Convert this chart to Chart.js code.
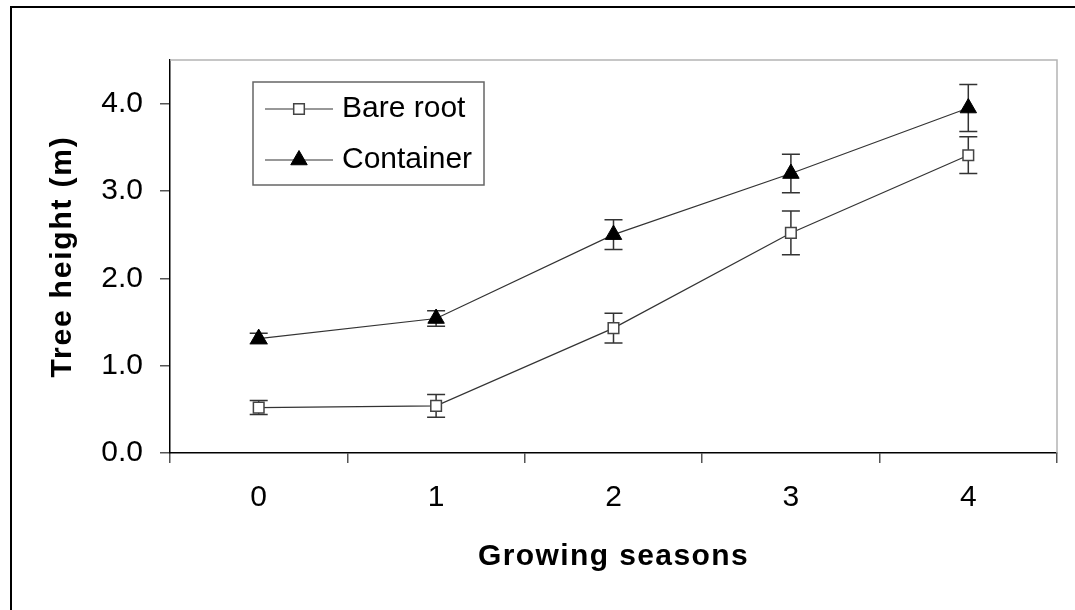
<!DOCTYPE html>
<html>
<head>
<meta charset="utf-8">
<script src="https://cdn.jsdelivr.net/npm/chart.js@4/dist/chart.umd.min.js"></script>
<style>
  body { margin: 0; background: #fff; overflow: hidden; }
  #frame { position: absolute; left: 10px; top: 6px; width: 1200px; height: 800px; border: 2px solid #000; }
  #wrap { position: absolute; left: 0; top: 0; width: 1075px; height: 610px; }
</style>
</head>
<body>
<div id="frame"></div>
<div id="wrap"><canvas id="chart" width="1075" height="610"></canvas></div>
<script>
// chart data
const seasons = ['0', '1', '2', '3', '4']
const bareRoot = [0.52, 0.54, 1.43, 2.52, 3.41]
const bareRootErr = [0.08, 0.13, 0.17, 0.25, 0.21]
const container = [1.31, 1.54, 2.50, 3.20, 3.95]
const containerErr = [0.06, 0.09, 0.17, 0.22, 0.27]
const yTicks = [0, 1, 2, 3, 4]

const FAMILY = '"Liberation Sans", Arial, sans-serif'
const tickFont = { family: FAMILY, size: 30 }
const titleFont = { family: FAMILY, size: 30, weight: 'bold' }

// the original axis titles are set a little loose
const spaceTitle = (scale, spacing) => {
  if (scale._spaced) return
  const draw = scale.drawTitle
  scale.drawTitle = function () {
    this.ctx.letterSpacing = spacing
    draw.call(this)
    this.ctx.letterSpacing = '0px'
  }
  scale._spaced = true
}

// error bars under the markers
const errorBars = {
  id: 'errorBars',
  beforeDatasetsDraw: (chart) => {
    const ctx = chart.ctx
    const yScale = chart.scales.y
    const errs = [bareRootErr, containerErr]
    ctx.save()
    ctx.strokeStyle = '#333'
    ctx.lineWidth = 1.5
    chart.data.datasets.forEach((ds, i) => {
      const meta = chart.getDatasetMeta(i)
      meta.data.forEach((pt, j) => {
        const v = ds.data[j]
        const e = errs[i][j]
        const yTop = yScale.getPixelForValue(v + e)
        const yBot = yScale.getPixelForValue(v - e)
        ctx.beginPath()
        ctx.moveTo(pt.x, yTop)
        ctx.lineTo(pt.x, yBot)
        ctx.moveTo(pt.x - 9, yTop)
        ctx.lineTo(pt.x + 9, yTop)
        ctx.moveTo(pt.x - 9, yBot)
        ctx.lineTo(pt.x + 9, yBot)
        ctx.stroke()
      })
    })
    ctx.restore()
  }
}

// gray top/right edge of the plot area
const plotFrame = {
  id: 'plotFrame',
  beforeDatasetsDraw: (chart) => {
    const { left, top, right, bottom } = chart.chartArea
    const ctx = chart.ctx
    ctx.save()
    ctx.strokeStyle = '#b4b4b4'
    ctx.lineWidth = 1.5
    ctx.beginPath()
    ctx.moveTo(left, top)
    ctx.lineTo(right, top)
    ctx.lineTo(right, bottom)
    ctx.stroke()
    ctx.restore()
  }
}

// boxed legend inside the plot, upper left
const boxLegend = {
  id: 'boxLegend',
  afterDraw: (chart) => {
    const ctx = chart.ctx
    const area = chart.chartArea
    const x0 = area.left + 83
    const y0 = area.top + 22
    ctx.save()
    ctx.fillStyle = '#fff'
    ctx.fillRect(x0, y0, 231, 103)
    ctx.strokeStyle = '#666'
    ctx.lineWidth = 1.5
    ctx.strokeRect(x0, y0, 231, 103)
    chart.data.datasets.forEach((ds, i) => {
      const cy = y0 + 27 + i * 51
      ctx.strokeStyle = ds.borderColor
      ctx.lineWidth = ds.borderWidth
      ctx.beginPath()
      ctx.moveTo(x0 + 12, cy)
      ctx.lineTo(x0 + 80, cy)
      ctx.stroke()
      ctx.fillStyle = ds.pointBackgroundColor
      ctx.strokeStyle = ds.pointBorderColor
      ctx.lineWidth = ds.pointBorderWidth
      Chart.helpers.drawPoint(ctx, {
        pointStyle: ds.pointStyle,
        radius: ds.pointRadius,
        borderWidth: ds.pointBorderWidth,
        rotation: 0
      }, x0 + 46, cy)
      ctx.fillStyle = '#000'
      ctx.font = '30px ' + FAMILY
      ctx.textBaseline = 'middle'
      ctx.textAlign = 'left'
      ctx.fillText(ds.label, x0 + 89, cy)
    })
    ctx.restore()
  }
}

const ctx = document.getElementById('chart').getContext('2d')
new Chart(ctx, {
  type: 'line',
  data: {
    labels: seasons,
    datasets: [
      {
        label: 'Bare root',
        data: bareRoot,
        borderColor: '#333',
        borderWidth: 1.2,
        pointStyle: 'rect',
        pointRadius: 7.5,
        pointBackgroundColor: '#fff',
        pointBorderColor: '#444',
        pointBorderWidth: 1.5
      },
      {
        label: 'Container',
        data: container,
        borderColor: '#333',
        borderWidth: 1.2,
        pointStyle: 'triangle',
        pointRadius: 9.5,
        pointBackgroundColor: '#000',
        pointBorderColor: '#000',
        pointBorderWidth: 1
      }
    ]
  },
  options: {
    responsive: false,
    animation: false,
    layout: { padding: { top: 60, right: 18, left: 0, bottom: 0 } },
    plugins: {
      legend: { display: false },
      tooltip: { enabled: false }
    },
    scales: {
      x: {
        offset: true,
        grid: { offset: true, drawOnChartArea: false, tickLength: 10, color: '#555', lineWidth: 1.5 },
        border: { color: '#000', width: 1.5 },
        ticks: { padding: 17, color: '#000', font: tickFont },
        title: { display: true, text: 'Growing seasons', color: '#000', font: titleFont, padding: { top: 0, bottom: 35 } },
        afterFit: (scale) => { scale.height = 157; spaceTitle(scale, '1.4px') }
      },
      y: {
        min: 0,
        max: 4.5,
        afterBuildTicks: (scale) => { scale.ticks = yTicks.map(v => ({ value: v })) },
        grid: { drawOnChartArea: false, tickLength: 10, color: '#555', lineWidth: 1.5 },
        border: { color: '#000', width: 1.5 },
        ticks: { padding: 17, color: '#000', font: tickFont, callback: (v) => Number(v).toFixed(1) },
        title: { display: true, text: 'Tree height (m)', color: '#000', font: titleFont, padding: { top: 45, bottom: 0 } },
        afterFit: (scale) => { scale.width = 170; spaceTitle(scale, '1.8px') }
      }
    }
  },
  plugins: [plotFrame, errorBars, boxLegend]
})
</script>
</body>
</html>
